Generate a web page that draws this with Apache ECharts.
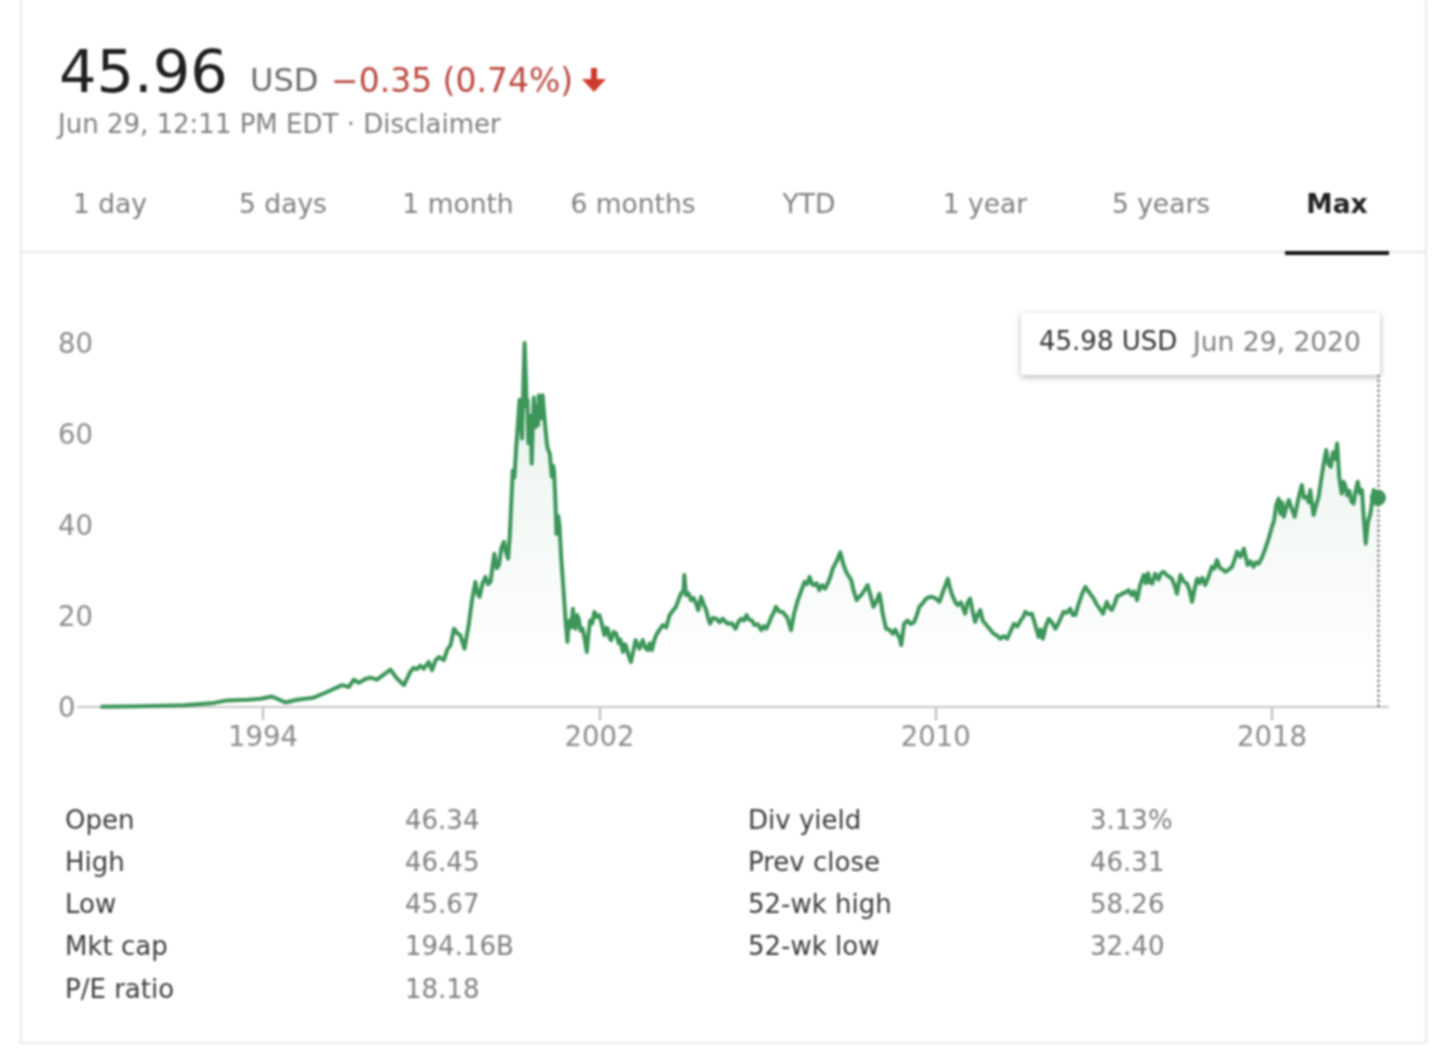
<!DOCTYPE html>
<html><head><meta charset="utf-8">
<style>html,body{margin:0;padding:0;background:#fff}#c{width:1440px;height:1056px;filter:blur(.8px)}</style>
<script src="https://cdn.jsdelivr.net/npm/echarts@6/dist/echarts.min.js"></script>
</head><body><div id="c"></div>
<script>
const years=[
1990.13,1991.08,1992.11,1992.83,1993.14,1993.62,1993.94,1994.21,1994.53,1994.81,
1995.2,1995.52,1995.88,1996.04,1996.16,1996.28,1996.42,1996.55,1996.71,1997.03,
1997.19,1997.35,1997.5,1997.58,1997.66,1997.74,1997.82,1997.94,1998.02,1998.1,
1998.18,1998.3,1998.38,1998.46,1998.54,1998.62,1998.69,1998.79,1998.89,1998.97,
1999.05,1999.1,1999.15,1999.22,1999.29,1999.35,1999.41,1999.46,1999.5,1999.56,
1999.61,1999.67,1999.73,1999.78,1999.83,1999.87,1999.9,1999.94,1999.98,2000.02,
2000.06,2000.1,2000.13,2000.16,2000.19,2000.22,2000.25,2000.27,2000.29,2000.31,
2000.33,2000.36,2000.39,2000.41,2000.44,2000.46,2000.49,2000.51,2000.54,2000.56,
2000.59,2000.61,2000.63,2000.65,2000.68,2000.72,2000.75,2000.77,2000.82,2000.85,
2000.87,2000.9,2000.92,2000.95,2000.98,2001.02,2001.05,2001.09,2001.13,2001.2,
2001.24,2001.27,2001.3,2001.33,2001.37,2001.4,2001.43,2001.47,2001.51,2001.55,
2001.6,2001.65,2001.7,2001.74,2001.78,2001.83,2001.88,2001.94,2002,2002.06,
2002.12,2002.16,2002.2,2002.24,2002.28,2002.34,2002.4,2002.46,2002.5,2002.56,
2002.6,2002.63,2002.69,2002.75,2002.8,2002.86,2002.9,2002.95,2003.03,2003.09,
2003.15,2003.2,2003.25,2003.3,2003.35,2003.43,2003.51,2003.59,2003.67,2003.75,
2003.82,2003.88,2003.94,2004,2004.02,2004.06,2004.12,2004.18,2004.24,2004.3,
2004.35,2004.42,2004.48,2004.54,2004.59,2004.63,2004.7,2004.78,2004.86,2004.93,
2005.05,2005.15,2005.24,2005.3,2005.37,2005.44,2005.5,2005.56,2005.63,2005.69,
2005.77,2005.85,2005.91,2005.97,2006.04,2006.09,2006.14,2006.2,2006.28,2006.36,
2006.42,2006.46,2006.52,2006.56,2006.63,2006.72,2006.8,2006.88,2006.94,2007,
2007.06,2007.11,2007.17,2007.23,2007.3,2007.37,2007.43,2007.49,2007.55,2007.64,
2007.73,2007.8,2007.87,2007.93,2007.99,2008.05,2008.12,2008.18,2008.23,2008.3,
2008.38,2008.45,2008.52,2008.59,2008.66,2008.7,2008.74,2008.82,2008.9,2008.98,
2009.04,2009.1,2009.14,2009.18,2009.25,2009.33,2009.41,2009.49,2009.55,2009.61,
2009.69,2009.77,2009.85,2009.93,2010.01,2010.09,2010.18,2010.29,2010.35,2010.41,
2010.47,2010.52,2010.6,2010.7,2010.76,2010.82,2010.88,2010.94,2011,2011.06,
2011.12,2011.18,2011.28,2011.38,2011.46,2011.54,2011.62,2011.7,2011.78,2011.86,
2011.94,2012.02,2012.08,2012.13,2012.21,2012.29,2012.37,2012.45,2012.5,2012.55,
2012.62,2012.69,2012.77,2012.85,2012.95,2013.04,2013.12,2013.2,2013.26,2013.32,
2013.4,2013.48,2013.56,2013.62,2013.7,2013.76,2013.84,2013.92,2013.98,2014.03,
2014.07,2014.13,2014.19,2014.26,2014.32,2014.39,2014.45,2014.52,2014.59,2014.66,
2014.72,2014.79,2014.86,2014.91,2014.95,2015,2015.05,2015.1,2015.15,2015.22,
2015.3,2015.36,2015.42,2015.5,2015.56,2015.62,2015.68,2015.74,2015.82,2015.9,
2015.98,2016.04,2016.1,2016.16,2016.22,2016.28,2016.34,2016.41,2016.49,2016.57,
2016.63,2016.69,2016.76,2016.83,2016.89,2016.97,2017.05,2017.11,2017.17,2017.25,
2017.33,2017.38,2017.42,2017.49,2017.56,2017.62,2017.68,2017.76,2017.84,2017.92,
2018,2018.05,2018.1,2018.16,2018.2,2018.24,2018.28,2018.34,2018.4,2018.47,
2018.54,2018.6,2018.66,2018.71,2018.76,2018.83,2018.87,2018.91,2018.95,2018.99,
2019.04,2019.11,2019.17,2019.23,2019.29,2019.34,2019.4,2019.45,2019.5,2019.55,
2019.6,2019.66,2019.7,2019.74,2019.79,2019.84,2019.89,2019.94,2019.99,2020.04,
2020.09,2020.14,2020.18,2020.23,2020.28,2020.34,2020.38,2020.42,2020.47,2020.52];
const prices=[
0.05,0.15,0.4,0.9,1.45,1.6,1.8,2.3,1,1.6,
2.05,3.3,4.8,4.4,6,5.3,6.1,6.45,6,8.2,
6.2,4.8,7.7,8.6,8.3,9.1,8.4,9.9,8.1,10.2,
11,10.3,12.6,13.6,17.2,16.2,15.8,12.8,18,23.5,
27.5,25,24.2,27.2,28.6,27,27.5,31,33.7,30.5,
31.2,35,36.3,34,32.6,38,44,52,50.5,57,
62,67.5,64,59,70,80,72,66,67.5,58,
59.4,64,53.5,60,68,63,61.6,66,62,68.5,
63.4,67,63.5,68.5,65,60.8,58,56.8,55.7,52.5,
50.6,53,52,46,38,42,40,33,27.9,18.5,
14.3,18.5,19,17.5,21.6,18,17.2,20.2,19.4,16.8,
17.2,15,12.1,16,19,18.4,20.9,19.8,20.2,18.2,
15.8,17.4,17.2,15.2,14.7,16.5,16.1,14,14.8,12.1,
13.8,13.6,11.4,9.9,12,14.7,13.9,12.8,14.7,13,
12.5,14,12.5,14.5,15.8,17,18,17.5,20.2,21.2,
22,23.5,24.9,25.5,29,24.6,25,23.5,24,22.7,
21.3,24.2,22.6,21.3,19.5,18.3,19.6,19.4,18.6,19.4,
18.3,18.4,17.2,18.6,19.4,19,20.2,19.2,19,18,
18.2,16.9,17.8,17.2,18.6,19.8,20.6,22,21,20.9,
20.2,19.8,18.2,16.9,20.5,23.5,25.5,27.5,27,28.6,
27,26.8,27.2,25.7,26.8,26,27.1,28.5,30.4,32,
34,31.5,29.7,28.8,27.9,25.5,23.5,24.2,24.6,25.6,
26.8,24.5,22,23.2,24.9,23,20.5,17.2,17,16.1,
17,15.8,15.2,13.6,18.3,19,18.2,18.7,20.2,22,
22.8,23.8,24.2,24.2,23.8,23.1,25.5,28.2,25.8,24.2,
23,22.4,23,20.5,23,23.8,21,18.7,20.3,21.3,
19,18.3,17.2,16.1,15.7,15,15.6,15,16.6,18.3,
17.7,19,19.7,20.9,20.4,20.5,18,15.4,17,15,
17.8,19.4,18.5,17.2,19,20.9,20.7,21.6,20.2,20.2,
22.6,24.8,26.4,25.6,24.6,23.8,22.4,21.4,20.5,22,
23.1,21.8,21.3,22.8,24.4,24.6,25,25.2,25.7,24.6,
25.4,23.5,26.6,28,29,27.2,29.4,27.4,27.1,29.3,
28,29.4,29.7,29,28.6,28.2,26.8,24.9,29,27.6,
27.1,25.6,23.1,26,28.2,27.2,28.4,26.8,28.6,30.8,
30.4,32.3,30.6,30.2,29.7,30.2,30.8,32.4,34.1,33,
34.8,32.8,31.2,32,30.8,31.8,31.5,32.8,34.8,37,
39.6,41,44.4,45.8,42.5,45,41.8,43.8,45.5,43.6,
41.8,44.6,47,48.8,46,46.2,45,47.7,44.8,42.2,
44,46.2,50,53.5,56.5,53.5,52.8,56,54.5,57.9,
50.5,46.9,49.5,48.8,46.5,47.5,45.2,44.7,47.5,49.5,
47,47.7,42,35.9,40.5,42.5,45,47.7,46.6,45.98];
const yearTicks=[1994,2002,2010,2018];
const priceTicks=[0,20,40,60,80];
const tabLabels=['1 day','5 days','1 month','6 months','YTD','1 year','5 years','Max'];
const statLabelsLeft=['Open','High','Low','Mkt cap','P/E ratio'];
const statValuesLeft=['46.34','46.45','45.67','194.16B','18.18'];
const statLabelsRight=['Div yield','Prev close','52-wk high','52-wk low'];
const statValuesRight=['3.13%','46.31','58.26','32.40'];

const FONT='"DejaVu Sans"';
const tabCenters=[110,283,458,633,809,985,1161,1337];
const rowY=[820,862,904,946,989];
function t(text,x,y,size,fill,align,weight){
  return {type:'text',silent:true,z:10,style:{text,x,y,fill,align:align||'left',verticalAlign:'middle',
    font:(weight||'normal')+' '+size+'px '+FONT}};
}
const g=[];
// card frame
g.push({type:'rect',silent:true,z:0,shape:{x:21,y:-6,width:1405,height:1049},style:{fill:'#fff',stroke:'#e9e9e9',lineWidth:2}});
g.push({type:'line',silent:true,z:1,shape:{x1:21,y1:252,x2:1426,y2:252},style:{stroke:'#e6e6e6',lineWidth:2}});
g.push({type:'rect',silent:true,z:2,shape:{x:1285,y:251,width:104,height:4},style:{fill:'#141414'}});
// header
g.push(t('45.96',59,71,59,'#1f1f1f'));
g.push(t('USD',250,80,32,'#6a6a6a'));
g.push(t('\u22120.35 (0.74%)',331,80,33,'#b8483f'));
g.push({type:'polygon',silent:true,z:10,shape:{points:[[591,68],[597,68],[597,79],[606,79],[594,92],[582,79],[591,79]]},style:{fill:'#cf3a2e'}});
g.push(t('Jun 29, 12:11 PM EDT \u00b7 Disclaimer',58,124,26,'#808080'));
tabLabels.forEach((s,i)=>g.push(t(s,tabCenters[i],203,26.5,i===7?'#222':'#808080','center',i===7?'bold':'normal')));
statLabelsLeft.forEach((s,i)=>g.push(t(s,65,rowY[i],26,'#3c3c3c')));
statValuesLeft.forEach((s,i)=>g.push(t(s,405,rowY[i],26,'#808080')));
statLabelsRight.forEach((s,i)=>g.push(t(s,748,rowY[i],26,'#3c3c3c')));
statValuesRight.forEach((s,i)=>g.push(t(s,1090,rowY[i],26,'#808080')));
// hover box
g.push({type:'rect',silent:true,z:20,shape:{x:1021,y:313,width:359,height:62,r:2},style:{fill:'#fff',shadowBlur:6,shadowColor:'rgba(0,0,0,.3)',shadowOffsetY:2}});
g.push(Object.assign(t('45.98 USD',1039,341,26,'#333'),{z:21}));
g.push(Object.assign(t('Jun 29, 2020',1193,341,26.5,'#808080'),{z:21}));

const last=years.length-1;
const chart=echarts.init(document.getElementById('c'),null,{renderer:'svg',width:1440,height:1056});
chart.setOption({
  animation:false,
  backgroundColor:'#fff',
  textStyle:{fontFamily:FONT},
  graphic:g,
  grid:{left:100,right:52,top:343,bottom:349,containLabel:false},
  xAxis:{type:'value',min:1990.12,max:2020.76,
    splitLine:{show:false},
    axisLine:{show:true,lineStyle:{color:'#c6c6c6',width:2}},
    axisTick:{show:true,length:13,customValues:yearTicks,lineStyle:{color:'#b8b8b8',width:2}},
    axisLabel:{customValues:yearTicks,margin:15,fontSize:27.5,color:'#8a8a8a',fontFamily:FONT,formatter:v=>String(v),
      showMinLabel:true,showMaxLabel:true}},
  yAxis:{type:'value',min:0,max:80,interval:20,
    splitLine:{lineStyle:{color:'#f3f3f3',width:2}},
    axisLine:{show:false},
    axisTick:{show:true,customValues:[0],length:23,lineStyle:{color:'#c6c6c6',width:2}},
    axisLabel:{customValues:priceTicks,align:'left',margin:42,fontSize:27.5,color:'#8a8a8a',fontFamily:FONT}},
  series:[{type:'line',z:5,showSymbol:false,smooth:false,
    data:years.map((y,i)=>[y,prices[i]]),
    lineStyle:{color:'#3c9559',width:4,join:'round'},
    areaStyle:{color:new echarts.graphic.LinearGradient(0,0,0,1,[
      {offset:0,color:'rgba(60,150,100,.18)'},{offset:.9,color:'rgba(60,150,100,0)'}])},
    markLine:{silent:true,symbol:'none',label:{show:false},
      lineStyle:{color:'#7f7f7f',type:'dotted',width:2.5},
      data:[[{coord:[years[last],0]},{coord:[years[last],73]}]]},
    markPoint:{silent:true,symbol:'circle',symbolSize:16,itemStyle:{color:'#3c9559'},label:{show:false},
      data:[{coord:[years[last],prices[last]]}]}
  }]
});
</script></body></html>
